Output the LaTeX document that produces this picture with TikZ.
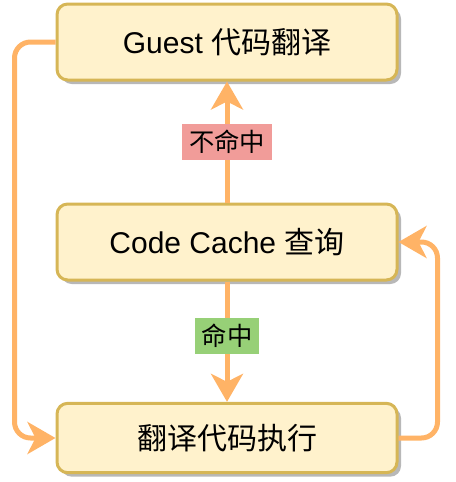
\documentclass[tikz,border=0pt]{standalone}
\usepackage{fontspec}
\setmainfont{Liberation Sans}
\newfontfamily\cjk{Noto Sans CJK SC}
\usetikzlibrary{arrows.meta, shadows}
\definecolor{boxfill}{HTML}{FFF2CC}
\definecolor{boxline}{HTML}{D6B656}
\definecolor{flowc}{HTML}{FFB366}
\definecolor{missc}{HTML}{F19C99}
\definecolor{hitc}{HTML}{97D077}
\tikzset{>={Stealth[length=21pt, width=24pt, inset=6pt]}}
\tikzset{
    stepbox/.style={draw=boxline, fill=boxfill, line width=2.25pt, rounded corners=8pt,
        minimum width=255pt, minimum height=57pt, font=\fontsize{22.5}{26}\selectfont,
        drop shadow={shadow xshift=3pt, shadow yshift=-3pt, fill=black!28, opacity=1}},
    flow/.style={draw=flowc, line width=3.75pt},
    tag/.style={font=\cjk\fontsize{19}{22}\selectfont, inner xsep=5pt, minimum height=27pt}
}
\begin{document}
\begin{tikzpicture}[x=0.75pt, y=-0.75pt]
    \useasboundingbox (0, 0) rectangle (456, 482);
    \node[stepbox](guest) at (227, 42){Guest {\cjk 代码翻译}};
    \node[stepbox](cache) at (227, 242){Code Cache {\cjk 查询}};
    \node[stepbox, minimum height=52pt](exec) at (227, 438){\cjk 翻译代码执行};
    % hit / miss
    \draw[flow, ->](cache.north)--(guest.south)node[midway, tag, fill=missc](miss){不命中};
    \draw[flow, ->](cache.south)--(exec.north)node[pos=.45, tag, fill=hitc](hit){命中};
    % loops
    \draw[flow, ->, rounded corners=12pt](guest.west)--++(-41, 0)|-(exec.west);
    \draw[flow, ->, rounded corners=12pt](exec.east)--++(39, 0)|-(cache.east);
\end{tikzpicture}
\end{document}
